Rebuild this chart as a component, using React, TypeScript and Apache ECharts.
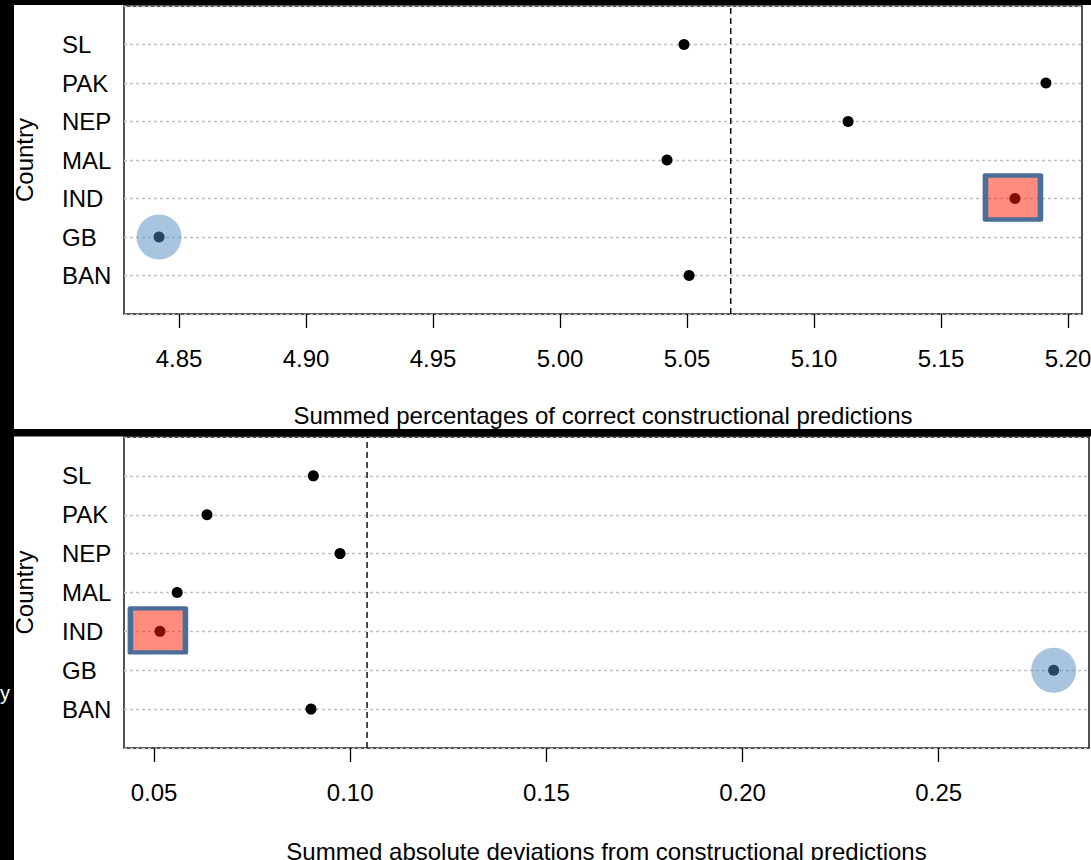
import React, { useEffect, useRef } from "react";
import * as echarts from "echarts";

// categories, bottom to top
const countries = ["BAN", "GB", "IND", "MAL", "NEP", "PAK", "SL"];
const yCategories = ["_pad0", ...countries, "_pad1"];

// top panel: summed percentages of correct constructional predictions
const pctCorrect = [5.0508, 4.8421, 5.1791, 5.0421, 5.1134, 5.1913, 5.0488];
const pctMean = 5.0672;
const pctTicks = [4.85, 4.9, 4.95, 5.0, 5.05, 5.1, 5.15, 5.2];

// bottom panel: summed absolute deviations from constructional predictions
const absDev = [0.09, 0.2793, 0.0515, 0.0559, 0.0974, 0.0635, 0.0906];
const devMean = 0.1043;
const devTicks = [0.05, 0.1, 0.15, 0.2, 0.25];

const rectTop = "IND";
const circleTop = "GB";
const rectBottom = "IND";
const circleBottom = "GB";

const FONT = "Liberation Sans, Arial, Helvetica, sans-serif";
const FS = 24;

export default function App() {
  const ref = useRef<HTMLDivElement>(null);
  useEffect(() => {
    document.body.style.margin = "0";
    const chart = echarts.init(ref.current!, null, { renderer: "svg" });

    const yAxisCommon = (gridIndex: number) => ({
      type: "category",
      gridIndex,
      data: yCategories,
      boundaryGap: false,
      axisLine: { show: false },
      axisTick: { show: false },
      axisLabel: {
        formatter: (v: string) => (v.startsWith("_pad") ? "" : v),
        align: "left",
        margin: 62,
        color: "#000",
        fontSize: FS,
        fontFamily: FONT,
      },
      splitLine: {
        show: true,
        lineStyle: { color: "#c0c0c0", width: 1.3, type: [3, 3] },
      },
      name: "Country",
      nameLocation: "middle",
      nameRotate: 90,
      nameGap: 88,
      nameTextStyle: { color: "#000", fontSize: FS, fontFamily: FONT },
    });

    const xAxisCommon = (
      gridIndex: number,
      min: number,
      max: number,
      ticks: number[],
      name: string,
      nameGap: number,
      labelMargin: number
    ) => ({
      type: "value",
      gridIndex,
      min,
      max,
      axisLine: { show: false },
      splitLine: { show: false },
      axisTick: {
        show: true,
        length: 14,
        inside: false,
        customValues: ticks,
        lineStyle: { color: "#000", width: 1.3 },
      },
      axisLabel: {
        customValues: ticks,
        formatter: (v: number) => v.toFixed(2),
        color: "#000",
        fontSize: FS,
        fontFamily: FONT,
        margin: labelMargin,
      },
      name,
      nameLocation: "middle",
      nameGap,
      nameTextStyle: { color: "#000", fontSize: FS, fontFamily: FONT },
    });

    const dotSeries = (idx: number, vals: number[]) => ({
      type: "scatter",
      xAxisIndex: idx,
      yAxisIndex: idx,
      symbol: "circle",
      symbolSize: 11,
      itemStyle: { color: "#000", opacity: 1 },
      data: countries.map((c, i) => [vals[i], c]),
      z: 3,
    });

    const meanSeries = (idx: number, mean: number) => ({
      type: "line",
      xAxisIndex: idx,
      yAxisIndex: idx,
      symbol: "none",
      silent: true,
      lineStyle: { color: "#000", width: 1.4, type: [6, 4] },
      data: [
        [mean, "_pad0"],
        [mean, "_pad1"],
      ],
      z: 2,
    });

    const rectSeries = (idx: number, vals: number[], name: string) => ({
      type: "scatter",
      xAxisIndex: idx,
      yAxisIndex: idx,
      symbol: "rect",
      symbolSize: [55, 44],
      symbolOffset: [-2, -1],
      itemStyle: {
        color: "rgba(255,25,0,0.5)",
        borderColor: "#4a6e98",
        borderWidth: 5,
        borderJoin: "round",
        opacity: 1,
      },
      data: [[vals[countries.indexOf(name)], name]],
      z: 5,
    });

    const circleSeries = (idx: number, vals: number[], name: string) => ({
      type: "scatter",
      xAxisIndex: idx,
      yAxisIndex: idx,
      symbol: "circle",
      symbolSize: 45,
      itemStyle: { color: "rgba(84,138,192,0.5)", opacity: 1 },
      data: [[vals[countries.indexOf(name)], name]],
      z: 5,
    });

    chart.setOption({
      animation: false,
      backgroundColor: "#fff",
      grid: [
        { left: 124, top: 6, width: 958, height: 308, show: true, borderColor: "#1a1a1a", borderWidth: 1.5, backgroundColor: "transparent", outerBoundsMode: "none", containLabel: false },
        { left: 124, top: 437, width: 965, height: 311, show: true, borderColor: "#1a1a1a", borderWidth: 1.5, backgroundColor: "transparent", outerBoundsMode: "none", containLabel: false },
      ],
      xAxis: [
        xAxisCommon(0, 4.8283, 5.2055, pctTicks, "Summed percentages of correct constructional predictions", 89, 32),
        xAxisCommon(1, 0.04235, 0.2883, devTicks, "Summed absolute deviations from constructional predictions", 91, 32),
      ],
      yAxis: [yAxisCommon(0), yAxisCommon(1)],
      series: [
        meanSeries(0, pctMean),
        dotSeries(0, pctCorrect),
        rectSeries(0, pctCorrect, rectTop),
        circleSeries(0, pctCorrect, circleTop),
        meanSeries(1, devMean),
        dotSeries(1, absDev),
        rectSeries(1, absDev, rectBottom),
        circleSeries(1, absDev, circleBottom),
      ],
      graphic: [
        { type: "rect", z: 100, shape: { x: 0, y: 0, width: 14, height: 860 }, style: { fill: "#000" } },
        { type: "rect", z: 100, shape: { x: 0, y: 0, width: 1091, height: 5 }, style: { fill: "#000" } },
        { type: "rect", z: 100, shape: { x: 0, y: 429, width: 1091, height: 7.5 }, style: { fill: "#000" } },
        { type: "text", z: 101, x: 0, y: 683, style: { text: "y", fill: "#fff", fontSize: 20, fontFamily: FONT } },
      ],
    });
    return () => chart.dispose();
  }, []);
  return <div ref={ref} style={{ width: 1091, height: 860 }} />;
}
